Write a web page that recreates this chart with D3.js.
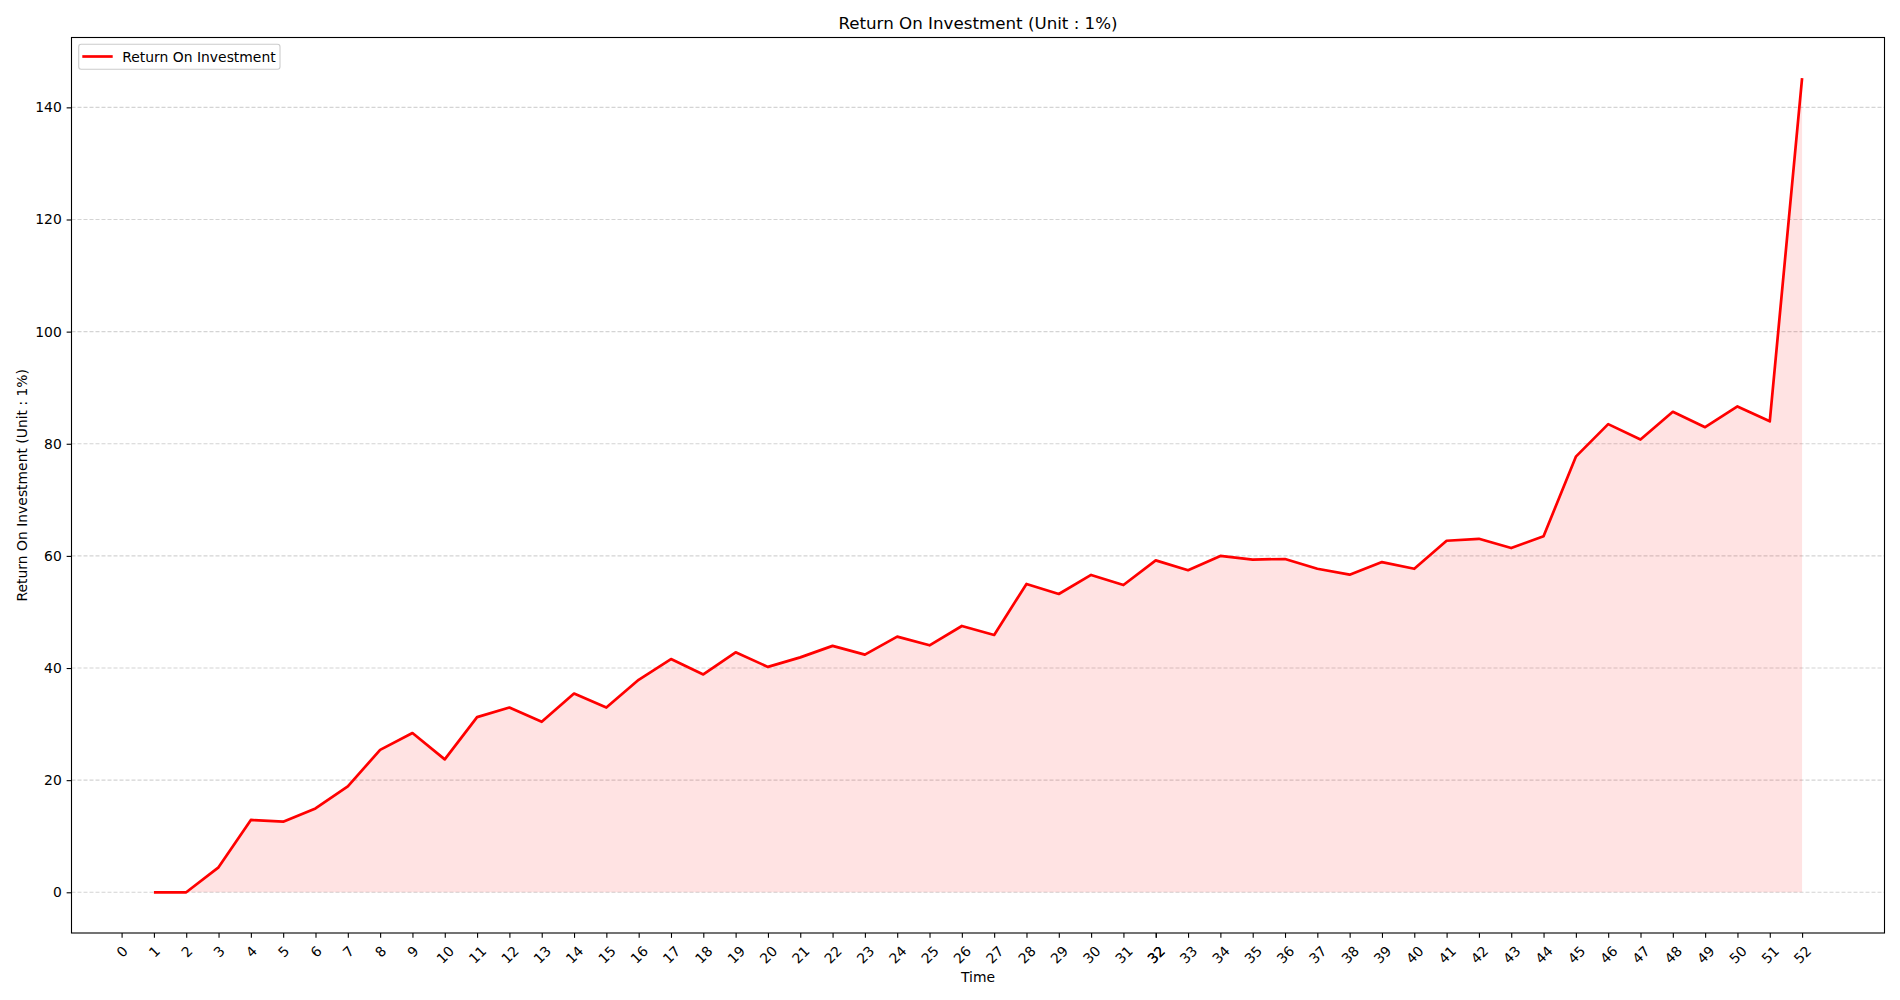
<!DOCTYPE html>
<html><head><meta charset="utf-8">
<script src="https://cdn.jsdelivr.net/npm/d3@7"></script>
<style>body{margin:0;background:#fff} text{font-family:"DejaVu Sans",sans-serif;fill:#000}</style>
</head><body><svg id="chart" width="1900" height="1000"></svg>
<script>
// ---- data ----
const times = [1,2,3,4,5,6,7,8,9,10,11,12,13,14,15,16,17,18,19,20,21,22,23,24,25,26,27,28,29,30,31,32,33,34,35,36,37,38,39,40,41,42,43,44,45,46,47,48,49,50,51,52];
const roi = [0,0,4.45,12.9,12.6,14.95,18.9,25.4,28.4,23.7,31.25,32.95,30.4,35.45,32.95,37.9,41.6,38.85,42.8,40.2,41.9,43.95,42.4,45.6,44.05,47.5,45.9,55.0,53.2,56.6,54.8,59.2,57.45,60.0,59.35,59.45,57.7,56.65,58.9,57.7,62.7,63.05,61.4,63.5,77.7,83.5,80.75,85.7,82.95,86.65,84.0,145.2];
const xTickLabels = [0,1,2,3,4,5,6,7,8,9,10,11,12,13,14,15,16,17,18,19,20,21,22,23,24,25,26,27,28,29,30,31,32,32,33,34,35,36,37,38,39,40,41,42,43,44,45,46,47,48,49,50,51,52];
const yTickLabels = [0,20,40,60,80,100,120,140];
const seriesName = "Return On Investment";
const titleText = "Return On Investment (Unit : 1%)";
const xLabel = "Time";
const yLabel = "Return On Investment (Unit : 1%)";

// ---- layout ----
const svg = d3.select("#chart");
const M = {l:71.5, r:1884.5, t:37.5, b:933};
const FS = 13.9, TICK = 4.86, PAD = 4.86;

const xMin = d3.min(times), xMax = d3.max(times), xPad = (xMax - xMin) * 0.05;
const x = d3.scaleLinear().domain([xMin - xPad, xMax + xPad]).range([M.l, M.r]);
const yMax = d3.max(roi), yPad = yMax * 0.05;
const y = d3.scaleLinear().domain([-yPad, yMax + yPad]).range([M.b, M.t]);

const data = times.map((t, i) => ({t, v: roi[i]}));

// grid
svg.append("g").selectAll("line").data(yTickLabels).join("line")
  .attr("x1", M.l).attr("x2", M.r)
  .attr("y1", d => y(d)).attr("y2", d => y(d))
  .attr("stroke", "#d4d4d4").attr("stroke-width", 1.1).attr("stroke-dasharray", "4,2");

// fill
svg.append("path").datum(data)
  .attr("d", d3.area().x(d => x(d.t)).y0(y(0)).y1(d => y(d.v)))
  .attr("fill", "rgba(255,0,0,0.11)");

// line
svg.append("path").datum(data)
  .attr("d", d3.line().x(d => x(d.t)).y(d => y(d.v)))
  .attr("fill", "none").attr("stroke", "#ff0000").attr("stroke-width", 2.7)
  .attr("stroke-linejoin", "round");

// y axis
const gy = svg.append("g").attr("transform", `translate(${M.l},0)`)
  .call(d3.axisLeft(y).tickValues(yTickLabels).tickSize(TICK).tickPadding(PAD));
gy.select(".domain").remove();
gy.selectAll("line").attr("stroke", "#000").attr("stroke-width", 1.1);
gy.selectAll("text").style("font-size", FS + "px").attr("font-family", "DejaVu Sans");

// x axis
const gx = svg.append("g").attr("transform", `translate(0,${M.b})`)
  .call(d3.axisBottom(x).tickValues(xTickLabels).tickSize(TICK).tickFormat(d => d));
gx.select(".domain").remove();
gx.selectAll("line").attr("stroke", "#000").attr("stroke-width", 1.1);
gx.selectAll("text").style("font-size", FS + "px").attr("font-family", "DejaVu Sans")
  .each(function() {
    const t = d3.select(this);
    t.attr("dy", null);
    const w = this.getComputedTextLength();
    const cy = TICK + PAD + (w + 16) * 0.3536;
    t.attr("x", 0).attr("y", cy).attr("text-anchor", "middle")
     .attr("dominant-baseline", "central")
     .attr("transform", `rotate(-45,0,${cy})`);
  });

// spines
svg.append("rect").attr("x", M.l).attr("y", M.t)
  .attr("width", M.r - M.l).attr("height", M.b - M.t)
  .attr("fill", "none").attr("stroke", "#000").attr("stroke-width", 1.1);

// title & labels
svg.append("text").attr("x", (M.l + M.r) / 2).attr("y", 29.2)
  .attr("text-anchor", "middle").style("font-size", "16.7px").text(titleText);
svg.append("text").attr("x", (M.l + M.r) / 2).attr("y", 982)
  .attr("text-anchor", "middle").style("font-size", FS + "px").text(xLabel);
svg.append("text").attr("transform", `translate(21.8,${(M.t + M.b) / 2}) rotate(-90)`)
  .attr("text-anchor", "middle").attr("dominant-baseline", "central")
  .style("font-size", FS + "px").text(yLabel);

// legend
const lg = svg.append("g");
lg.append("rect").attr("x", 78.7).attr("y", 44.3).attr("width", 201.3).attr("height", 25)
  .attr("rx", 2.5).attr("fill", "rgba(255,255,255,0.8)").attr("stroke", "#cccccc").attr("stroke-width", 1.1);
lg.append("line").attr("x1", 82.3).attr("x2", 112.7).attr("y1", 56.5).attr("y2", 56.5)
  .attr("stroke", "#ff0000").attr("stroke-width", 2.7);
lg.append("text").attr("x", 122.3).attr("y", 56.5).attr("dominant-baseline", "central")
  .style("font-size", FS + "px").text(seriesName);
</script></body></html>
